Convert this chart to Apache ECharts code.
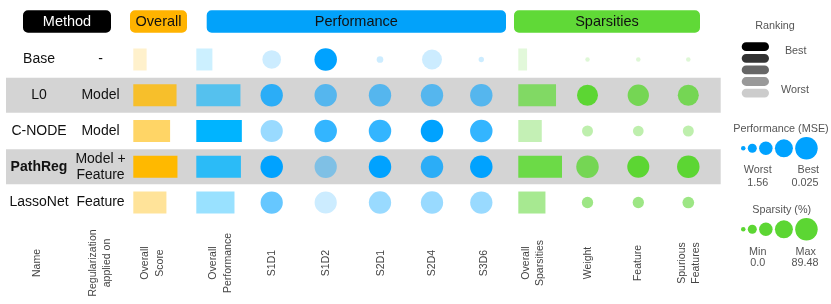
<!DOCTYPE html>
<html><head><meta charset="utf-8">
<script src="https://cdn.jsdelivr.net/npm/echarts@6/dist/echarts.min.js"></script>
<style>html,body{margin:0;padding:0;background:#fff}#c{width:831px;height:304px}</style>
</head><body><div id="c"></div>
<script>
// ---------------- DATA ----------------
const methods = ['Base', 'L0', 'C-NODE', 'PathReg', 'LassoNet'];
const boldMethod = [false, false, false, true, false];
const regularization = ['-', 'Model', 'Model', 'Model +\nFeature', 'Feature'];
const columnLabels = ['Name', 'Regularization\napplied on', 'Overall\nScore', 'Overall\nPerformance',
  'S1D1', 'S1D2', 'S2D1', 'S2D4', 'S3D6', 'Overall\nSparsities', 'Weight', 'Feature', 'Spurious\nFeatures'];
const groupHeaders = ['Method', 'Overall', 'Performance', 'Sparsities'];

// overall bars (relative score 0..1) and rankings (1 = best)
const overallScore = [0.29, 0.94, 0.80, 0.96, 0.72];
const overallScoreRank = [5, 2, 3, 1, 4];
const overallPerf = [0.35, 0.96, 0.99, 0.97, 0.83];
const overallPerfRank = [5, 3, 1, 2, 4];
const overallSparsity = [0.19, 0.82, 0.51, 0.95, 0.59];
const overallSparsityRank = [5, 2, 4, 1, 3];

// performance (MSE) per dataset
const datasets = ['S1D1', 'S1D2', 'S2D1', 'S2D4', 'S3D6'];
const mseS1D1 = [0.349, 0.040, 0.050, 0.025, 0.045];
const mseS1D2 = [0.025, 0.035, 0.030, 0.045, 0.050];
const mseS2D1 = [1.372, 0.035, 0.030, 0.026, 0.040];
const mseS2D4 = [0.238, 0.035, 0.025, 0.030, 0.040];
const mseS3D6 = [1.490, 0.035, 0.030, 0.025, 0.045];
const rankS1D1 = [5, 2, 4, 1, 3];
const rankS1D2 = [1, 3, 2, 4, 5];
const rankS2D1 = [5, 3, 2, 1, 4];
const rankS2D4 = [5, 3, 1, 2, 4];
const rankS3D6 = [5, 3, 2, 1, 4];

// sparsities (%)
const sparsityTypes = ['Weight', 'Feature', 'Spurious Features'];
const spWeight = [0.0, 82.0, 32.3, 89.48, 33.8];
const spFeature = [0.0, 83.5, 30.8, 87.0, 33.8];
const spSpurious = [0.0, 82.0, 32.3, 89.48, 35.8];
const rankWeight = [5, 1, 4, 2, 3];
const rankFeature = [5, 2, 4, 1, 3];
const rankSpurious = [5, 2, 4, 1, 3];

// legend scales
const MSE_WORST = 1.56, MSE_BEST = 0.025;
const SP_MIN = 0.0, SP_MAX = 89.48;
const rankingLabels = ['Best', 'Worst'];

// ---------------- STYLE / LAYOUT ----------------
const FONT = "'Liberation Sans', Arial, Helvetica, sans-serif";
const RANK_OPACITY = [1, 0.8, 0.6, 0.4, 0.2];
const ORANGE = [255, 185, 0];
const BLUE_RECT = [0, 180, 255];
const BLUE = [0, 162, 255];
const GREEN_RECT = [108, 218, 71];
const GREEN = [92, 214, 51];
const rgba = (c, a) => `rgba(${c[0]},${c[1]},${c[2]},${a})`;
const MIN_D = 4.5, MAX_D = 22.5;
const RECT_H = 22, RECT_MAX_W = 46;
// column x positions (pixel-space units of the hidden x axis)
const X_NAME = 39, X_REG = 100.5;
const X_OSCORE = 133.3, X_OPERF = 196.3, X_OSPARS = 518.3;
const X_PERF = [271.7, 325.7, 380, 432, 481.3];
const X_SPARS = [587.5, 638.3, 688.3];
const LABEL_X = [37, 100, 152.5, 220.5, 272, 326, 381, 432, 484, 533, 588, 638, 689];
const LABEL_Y = 263;
const BAND_X0 = 6, BAND_X1 = 720.7;
const bandRows = [1, 3];

const perfD = v => MIN_D + (MAX_D - MIN_D) * Math.max(0, Math.min(1, (MSE_WORST - v) / (MSE_WORST - MSE_BEST)));
const sparD = v => MIN_D + (MAX_D - MIN_D) * Math.max(0, Math.min(1, (v - SP_MIN) / (SP_MAX - SP_MIN)));

// ---------------- BUILD SERIES DATA ----------------
const rectCols = [
  {x: X_OSCORE, vals: overallScore, ranks: overallScoreRank, color: ORANGE},
  {x: X_OPERF, vals: overallPerf, ranks: overallPerfRank, color: BLUE_RECT},
  {x: X_OSPARS, vals: overallSparsity, ranks: overallSparsityRank, color: GREEN_RECT}
];
const rectData = [];
rectCols.forEach((c, ci) => c.vals.forEach((v, r) => rectData.push([c.x, r, v, c.ranks[r], ci])));

const perfVals = [mseS1D1, mseS1D2, mseS2D1, mseS2D4, mseS3D6];
const perfRanks = [rankS1D1, rankS1D2, rankS2D1, rankS2D4, rankS3D6];
const spVals = [spWeight, spFeature, spSpurious];
const spRanks = [rankWeight, rankFeature, rankSpurious];
const circleData = [];
perfVals.forEach((arr, ci) => arr.forEach((v, r) => circleData.push([X_PERF[ci], r, perfD(v), perfRanks[ci][r], 0])));
spVals.forEach((arr, ci) => arr.forEach((v, r) => circleData.push([X_SPARS[ci], r, sparD(v), spRanks[ci][r], 1])));

const rowData = methods.map((m, i) => [X_NAME, i]);
const colLabelData = LABEL_X.map((x, i) => [x, 0, i]);
const bandData = bandRows.map(r => [BAND_X0, r]);

// ---------------- GRAPHIC (headers + legend) ----------------
const graphic = [];
const pills = [
  {x0: 23, x1: 111, fill: '#000000', color: '#ffffff'},
  {x0: 130, x1: 187, fill: '#FFB300', color: '#111111'},
  {x0: 206.7, x1: 506, fill: '#02A2FA', color: '#111111'},
  {x0: 514, x1: 700, fill: '#60D937', color: '#111111'}
];
pills.forEach((p, i) => {
  graphic.push({type: 'rect', shape: {x: p.x0, y: 10.3, width: p.x1 - p.x0, height: 22.4, r: 5}, style: {fill: p.fill}});
  graphic.push({type: 'text', x: (p.x0 + p.x1) / 2, y: 21.8,
    style: {text: groupHeaders[i], fill: p.color, font: `14.5px ${FONT}`, align: 'center', verticalAlign: 'middle', textAlign: 'center', textVerticalAlign: 'middle'}});
});
const LEG_C = '#555555';
const legText = (t, x, y) => ({type: 'text', x, y,
  style: {text: t, fill: LEG_C, font: `10.8px ${FONT}`, align: 'center', verticalAlign: 'middle', textAlign: 'center', textVerticalAlign: 'middle'}});
graphic.push(legText('Ranking', 775, 26));
RANK_OPACITY.forEach((op, i) => {
  graphic.push({type: 'rect', shape: {x: 741.7, y: 42.3 + i * 11.6, width: 27.3, height: 8.8, r: 4.4}, style: {fill: rgba([0, 0, 0], op)}});
});
graphic.push(legText(rankingLabels[0], 795.7, 50.7));
graphic.push(legText(rankingLabels[1], 795, 90));
const legSizes = [0, 1, 2, 3, 4].map(i => MIN_D + (MAX_D - MIN_D) * i / 4);
function legCircles(cy, col) {
  let x = 741;
  legSizes.forEach(d => {
    graphic.push({type: 'circle', shape: {cx: x + d / 2, cy, r: d / 2}, style: {fill: rgba(col, 1)}});
    x += d + 2.3;
  });
}
graphic.push(legText('Performance (MSE)', 781, 129.3));
legCircles(148.3, BLUE);
graphic.push(legText('Worst', 757.7, 170));
graphic.push(legText(String(MSE_WORST), 757.7, 183.3));
graphic.push(legText('Best', 808.3, 170));
graphic.push(legText(String(MSE_BEST), 805, 183.3));
graphic.push(legText('Sparsity (%)', 781.7, 210));
legCircles(229.3, GREEN);
graphic.push(legText('Min', 757.7, 251.7));
graphic.push(legText(SP_MIN.toFixed(1), 757.7, 263.3));
graphic.push(legText('Max', 805.7, 251.7));
graphic.push(legText(String(SP_MAX), 805, 263.3));

// ---------------- CHART ----------------
const chart = echarts.init(document.getElementById('c'));
const option = {
  animation: false,
  grid: {left: 0, right: 0, top: 41.6, bottom: 83.6},
  xAxis: {type: 'value', min: 0, max: 831, show: false},
  yAxis: {type: 'category', data: methods, inverse: true, show: false},
  graphic: graphic,
  series: [
    { // gray bands
      type: 'custom', z: 1, data: bandData, encode: {x: 0, y: 1},
      renderItem: (params, api) => {
        const p0 = api.coord([api.value(0), api.value(1)]);
        const p1 = api.coord([BAND_X1, api.value(1)]);
        const h = api.size([0, 1])[1] - 0.8;
        return {type: 'rect', shape: {x: p0[0], y: p0[1] - h / 2, width: p1[0] - p0[0], height: h}, style: {fill: '#d4d4d4'}};
      }
    },
    { // row text
      type: 'custom', z: 3, data: rowData, encode: {x: 0, y: 1},
      renderItem: (params, api) => {
        const i = params.dataIndex;
        const p = api.coord([api.value(0), api.value(1)]);
        const q = api.coord([X_REG, api.value(1)]);
        return {type: 'group', children: [
          {type: 'text', x: p[0], y: p[1], style: {text: methods[i], fill: '#111', font: `${boldMethod[i] ? 'bold ' : ''}14px ${FONT}`, align: 'center', verticalAlign: 'middle', textAlign: 'center', textVerticalAlign: 'middle'}},
          {type: 'text', x: q[0], y: q[1], style: {text: regularization[i], fill: '#111', font: `14px ${FONT}`, lineHeight: 16, align: 'center', verticalAlign: 'middle', textAlign: 'center', textVerticalAlign: 'middle'}}
        ]};
      }
    },
    { // overall rects
      type: 'custom', z: 3, data: rectData, encode: {x: 0, y: 1},
      renderItem: (params, api) => {
        const p = api.coord([api.value(0), api.value(1)]);
        const w = api.size([api.value(2) * RECT_MAX_W, 0])[0];
        const col = rectCols[api.value(4)].color;
        return {type: 'rect', shape: {x: p[0], y: p[1] - RECT_H / 2, width: w, height: RECT_H},
          style: {fill: rgba(col, RANK_OPACITY[api.value(3) - 1])}};
      }
    },
    { // circles
      type: 'custom', z: 3, data: circleData, encode: {x: 0, y: 1},
      renderItem: (params, api) => {
        const p = api.coord([api.value(0), api.value(1)]);
        const d = api.value(2);
        const col = api.value(4) === 0 ? BLUE : GREEN;
        return {type: 'circle', shape: {cx: p[0], cy: p[1], r: d / 2},
          style: {fill: rgba(col, RANK_OPACITY[api.value(3) - 1])}};
      }
    },
    { // column labels (bottom, rotated)
      type: 'custom', z: 3, data: colLabelData, encode: {x: 0, y: 1}, clip: false,
      renderItem: (params, api) => {
        const p = api.coord([api.value(0), 0]);
        return {type: 'text', x: p[0], y: LABEL_Y, rotation: Math.PI / 2,
          style: {text: columnLabels[api.value(2)], fill: '#444', font: `10.5px ${FONT}`, lineHeight: 14.5,
            align: 'center', verticalAlign: 'middle', textAlign: 'center', textVerticalAlign: 'middle'}};
      }
    }
  ]
};
chart.setOption(option);
</script>
</body></html>
